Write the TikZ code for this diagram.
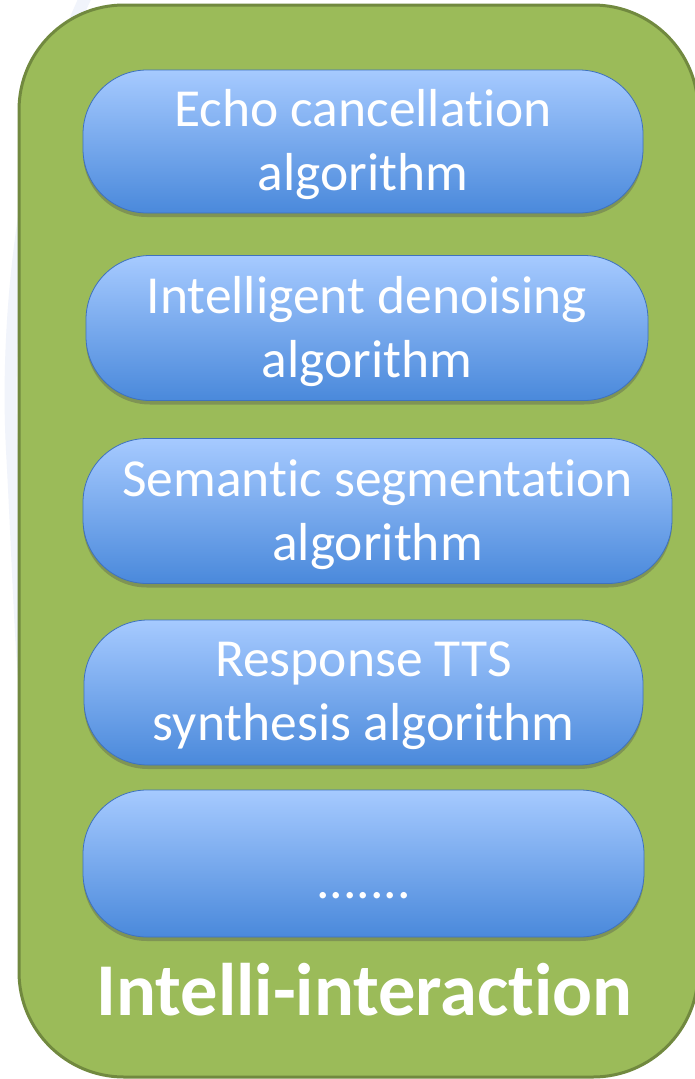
\documentclass[tikz,border=0pt]{standalone}
\usepackage{fontspec}
\setmainfont{Carlito}[Ligatures=CommonOff]
\usetikzlibrary{shadows}
\definecolor{frameGreen}{HTML}{9BBB59}
\definecolor{frameEdge}{HTML}{71893F}
\definecolor{pillTop}{HTML}{A6CAFF}
\definecolor{pillMid}{HTML}{88B3F4}
\definecolor{pillBot}{HTML}{4A89DB}
\definecolor{pillEdge}{HTML}{3F72BE}
\definecolor{ringBlue}{HTML}{F1F4FB}
\tikzset{
  pill/.style={draw=pillEdge, line width=0.8pt, rounded corners=64pt,
    top color=pillTop, middle color=pillMid, bottom color=pillBot,
    inner sep=0pt,
    drop shadow={shadow xshift=0pt, shadow yshift=-4pt, opacity=0.35, fill=black!70}},
  pilltext/.style={align=center, text=white, inner sep=0pt, yshift=-3.5pt,
    font=\fontsize{53.5}{64}\selectfont},
  frame/.style={draw=frameEdge, line width=3pt, fill=frameGreen, rounded corners=105pt},
  titletext/.style={text=white, font=\fontsize{74.5}{80}\selectfont\bfseries, inner sep=0pt}
}
\begin{document}
\begin{tikzpicture}[x=1pt,y=-1pt]
\useasboundingbox (0,0) rectangle (695,1079);
\fill[white] (0,0) rectangle (695,1079);
\draw[line width=12pt, color=ringBlue] (88,-8) .. controls (30,110) and (4,300) .. (12,450) .. controls (18,560) and (20,640) .. (26,700);
\node[frame, minimum width=679pt, minimum height=1072pt, inner sep=0pt] (frame) at (358.5,541) {};
\node[pill, minimum width=560pt, minimum height=143pt,
  label={[pilltext]center:Echo cancellation\\algorithm}] (p1) at (363,141.5) {};
\node[pill, minimum width=562pt, minimum height=145pt,
  label={[pilltext]center:Intelligent denoising\\algorithm}] (p2) at (367,328) {};
\node[pill, minimum width=589pt, minimum height=145pt,
  label={[pilltext]center:Semantic segmentation\\algorithm}] (p3) at (377.5,511) {};
\node[pill, minimum width=559pt, minimum height=145pt,
  label={[pilltext]center:Response TTS\\synthesis algorithm}] (p4) at (363.5,692.5) {};
\node[pill, minimum width=561pt, minimum height=147pt,
  label={[pilltext]center:\mbox{}\\.......}] (p5) at (363.5,863.5) {};
\node[titletext, anchor=base] (title) at (364.5,1015) {Intelli-interaction};
\end{tikzpicture}
\end{document}
